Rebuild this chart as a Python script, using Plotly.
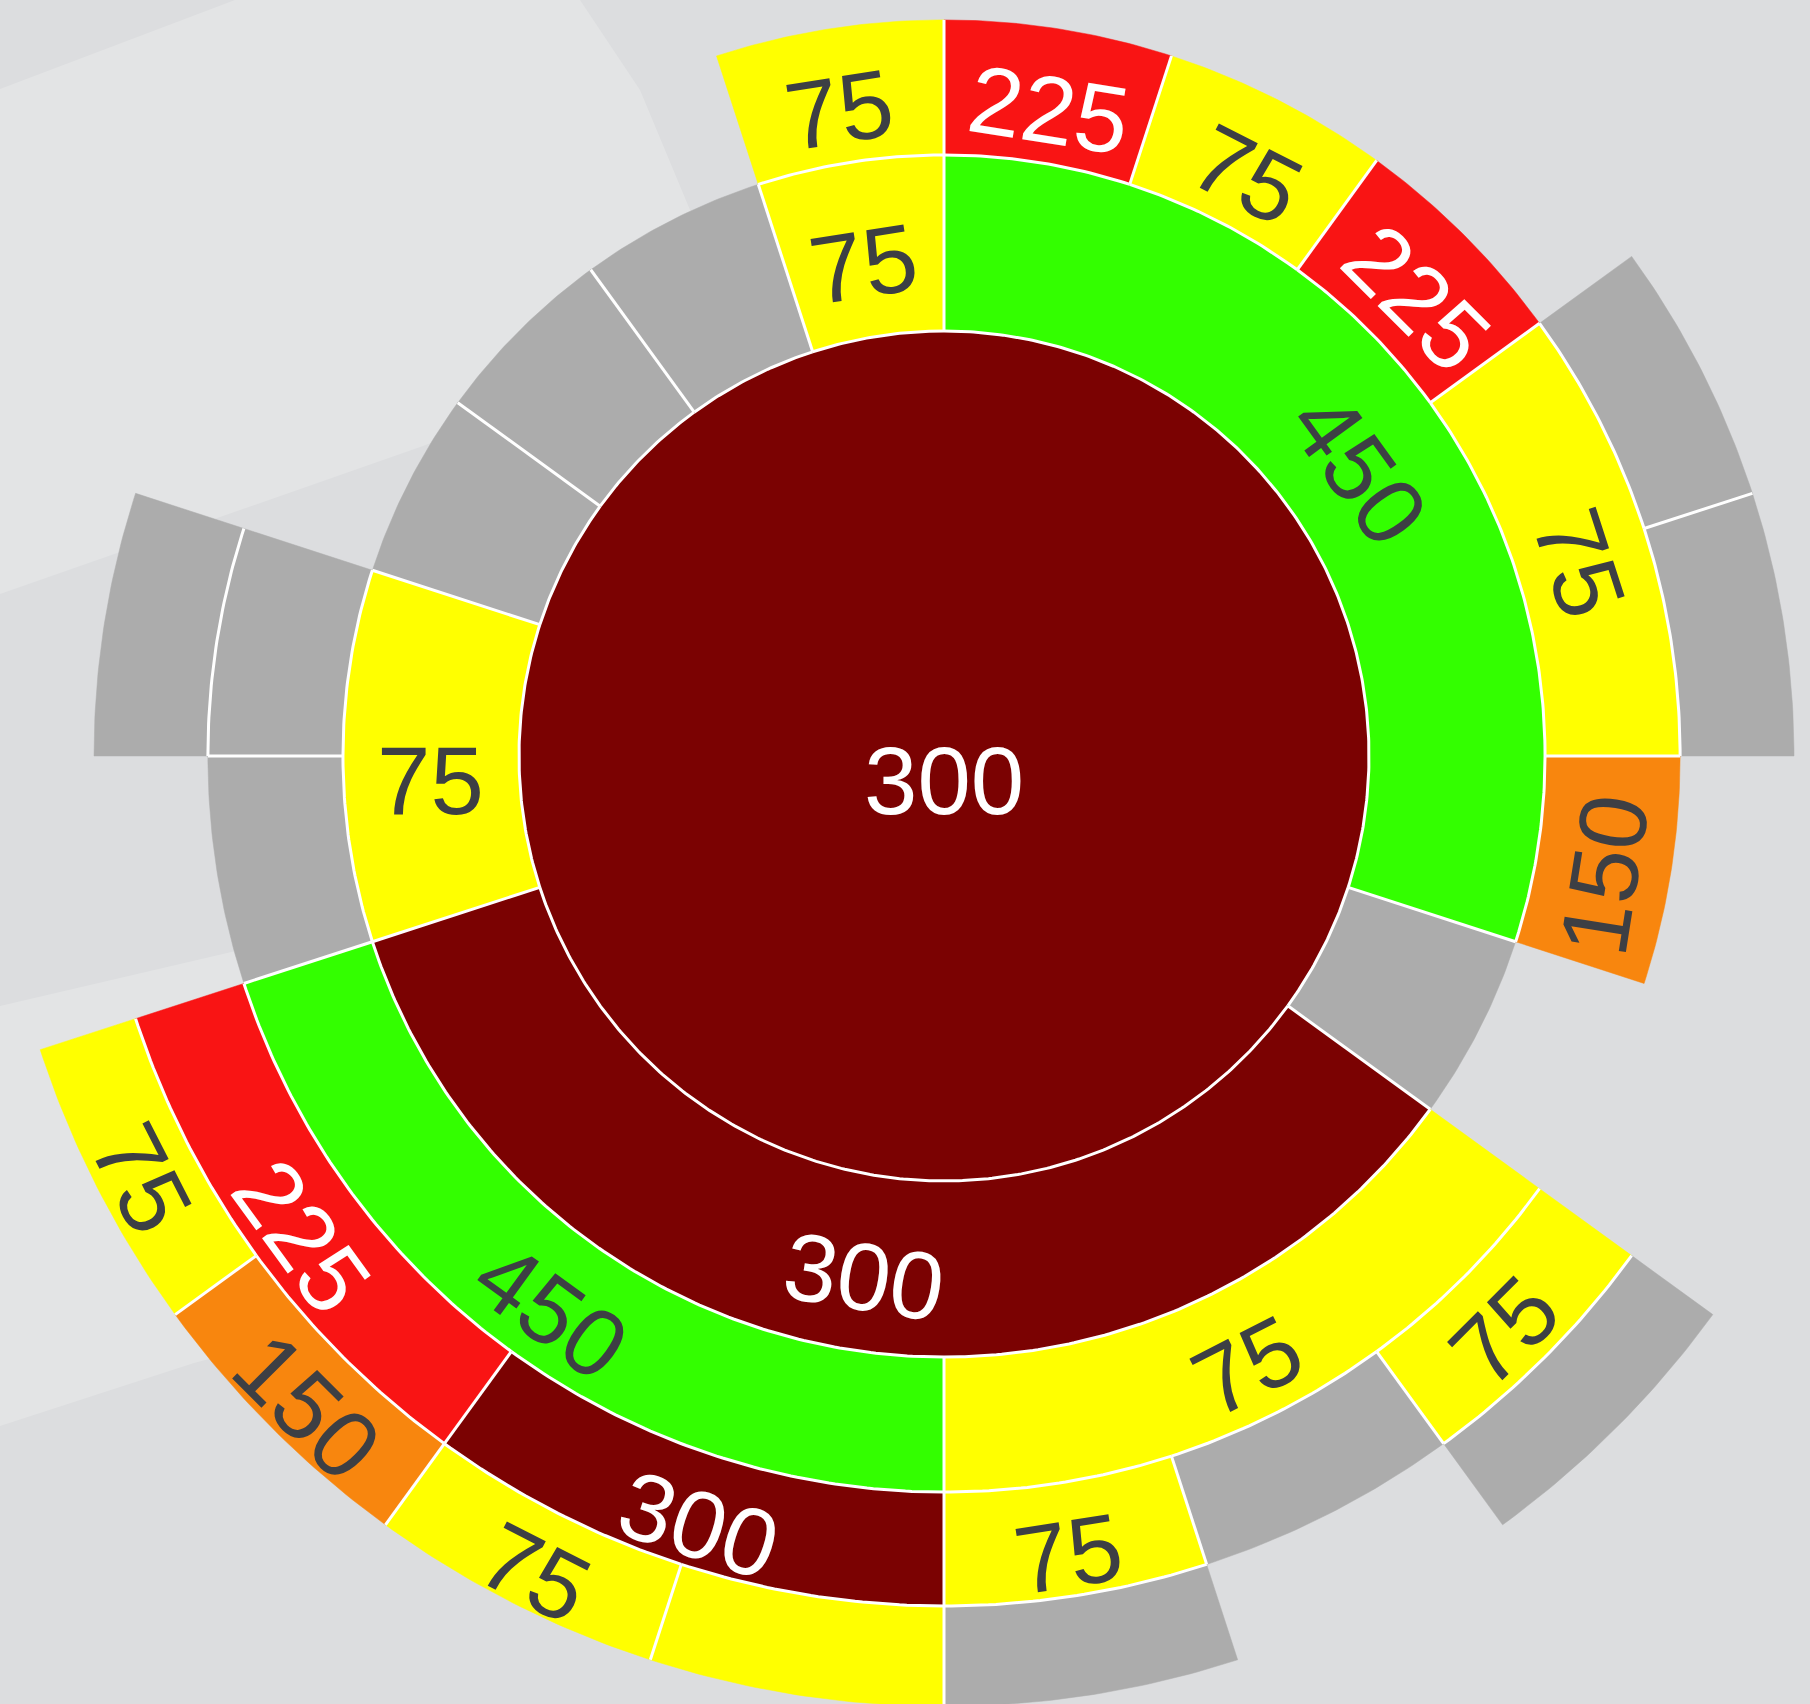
import numpy as np
import plotly.graph_objects as go

# ---------------- data ----------------
# ring level (0 = centre disc), start / end angle (degrees clockwise from 12 o'clock), value (None = empty node)
level  = [0,
          1, 1, 1, 1, 1, 1, 1, 1,
          2, 2, 2, 2, 2, 2, 2, 2, 2, 2,
          3, 3, 3, 3, 3, 3, 3, 3,
          4, 4, 4, 4, 4, 4]
start  = [0,
          0, 108, 126, 252, 288, 306, 324, 342,
          0, 18, 36, 54, 90, 126, 180, 252, 270, 342,
          54, 72, 126, 144, 162, 180, 216, 270,
          126, 162, 180, 198, 216, 234]
end    = [360,
          108, 126, 252, 288, 306, 324, 342, 360,
          18, 36, 54, 90, 108, 180, 252, 270, 288, 360,
          72, 90, 144, 162, 180, 216, 252, 288,
          144, 180, 198, 216, 234, 252]
value  = [300,
          450, None, 300, 75, None, None, None, 75,
          225, 75, 225, 75, 150, 75, 450, None, None, 75,
          None, None, 75, None, 75, 300, 225, None,
          None, None, 75, 75, 150, 75]
label_hidden = [False] * len(level)
label_hidden[29] = True   # the 180-198 outer sector carries no visible label

# ---------------- style ----------------
palette = {75: "#ffff00", 150: "#f8860e", 225: "#f91414", 300: "#7b0202", 450: "#33ff00", None: "#acacac"}
text_col = {75: "#3d3f44", 150: "#3d3f44", 225: "#ffffff", 300: "#ffffff", 450: "#3d3f44"}
BG = "#dcdddf"
BAND = "#e3e4e5"
FONT = "Liberation Sans, Arial, Helvetica, sans-serif"
FS = 96
W, H = 1810, 1704
CX, CY, UNIT = 944, 756, 425.0      # pixel centre and pixel size of one radial unit
horizontal = {0, 4}                 # labels drawn horizontally
DY_TANG = 14 / UNIT                 # downward offset of rotated labels
DY_HORIZ = 24 / UNIT                # downward offset of horizontal labels
SEP_W = 3                           # white separator width

# radial geometry: equal-area rings
inner = [np.sqrt(l) for l in level]
outer = [np.sqrt(l + 1) for l in level]


def arc(r, a0, a1):
    n = max(int(abs(a1 - a0) * 2), 2) + 1
    t = np.radians(np.linspace(a0, a1, n))
    return list(r * np.sin(t)), list(r * np.cos(t))


def sector(r0, r1, a0, a1):
    xs, ys = arc(r1, a0, a1)
    if r0 > 0:
        xi, yi = arc(r0, a1, a0)
        xs += xi
        ys += yi
    xs.append(xs[0])
    ys.append(ys[0])
    return xs, ys


fig = go.Figure()
for k in range(len(level)):
    xs, ys = sector(inner[k], outer[k], start[k], end[k])
    fig.add_trace(go.Scatter(
        x=xs, y=ys, mode="lines", fill="toself",
        fillcolor=palette[value[k]],
        line=dict(color=palette[value[k]], width=0.5),
        hoverinfo="skip", showlegend=False,
    ))

# white separators only where two sectors touch
lx, ly = [], []
for k in range(len(level)):
    if level[k] == 0:
        continue
    xs, ys = arc(inner[k], start[k], end[k])
    lx += xs + [None]
    ly += ys + [None]
    for j in range(len(level)):
        if level[j] == level[k] and (end[j] % 360) == (start[k] % 360):
            a = np.radians(start[k])
            lx += [inner[k] * np.sin(a), outer[k] * np.sin(a), None]
            ly += [inner[k] * np.cos(a), outer[k] * np.cos(a), None]
fig.add_trace(go.Scatter(x=lx, y=ly, mode="lines", line=dict(color="white", width=SEP_W),
                         hoverinfo="skip", showlegend=False))

annotations = []
for k, (lv, s, e, v) in enumerate(zip(level, start, end, value)):
    if v is None or label_hidden[k]:
        continue
    m = (s + e) / 2
    rm = 0 if lv == 0 else (inner[k] + outer[k]) / 2
    x = rm * np.sin(np.radians(m))
    y = rm * np.cos(np.radians(m))
    if k in horizontal:
        ang = 0
        y -= DY_HORIZ
    else:
        ang = m if (m <= 90 or m >= 270) else m - 180
        if ang > 180:
            ang -= 360
        y -= DY_TANG
    annotations.append(dict(x=x, y=y, xref="x", yref="y", text=str(v), showarrow=False,
                            textangle=ang, xanchor="center", yanchor="middle",
                            font=dict(family=FONT, size=FS, color=text_col[v])))

# faint lighter bands of the backdrop (pixel polygons)
bands = [
    [(0, 89), (235, 0), (580, 0), (640, 90), (690, 210), (720, 330), (423, 446), (0, 594)],
    [(0, 1006), (240, 950), (320, 930), (320, 1330), (194, 1363), (0, 1426)],
]
shapes = []
for poly in bands:
    path = "M" + " L".join(f"{px / W:.5f},{1 - py / H:.5f}" for px, py in poly) + " Z"
    shapes.append(dict(type="path", path=path, xref="paper", yref="paper",
                       fillcolor=BAND, line=dict(width=0), layer="below"))

fig.update_layout(
    width=W, height=H,
    margin=dict(l=0, r=0, t=0, b=0),
    paper_bgcolor=BG, plot_bgcolor="rgba(0,0,0,0)",
    xaxis=dict(visible=False, range=[-CX / UNIT, (W - CX) / UNIT], domain=[0, 1], fixedrange=True),
    yaxis=dict(visible=False, range=[-(H - CY) / UNIT, CY / UNIT], domain=[0, 1], fixedrange=True),
    annotations=annotations,
    shapes=shapes,
    showlegend=False,
)

fig.write_html("out.html", config={"displayModeBar": False},
               post_script="document.body.style.margin='0';document.body.style.overflow='hidden';")
